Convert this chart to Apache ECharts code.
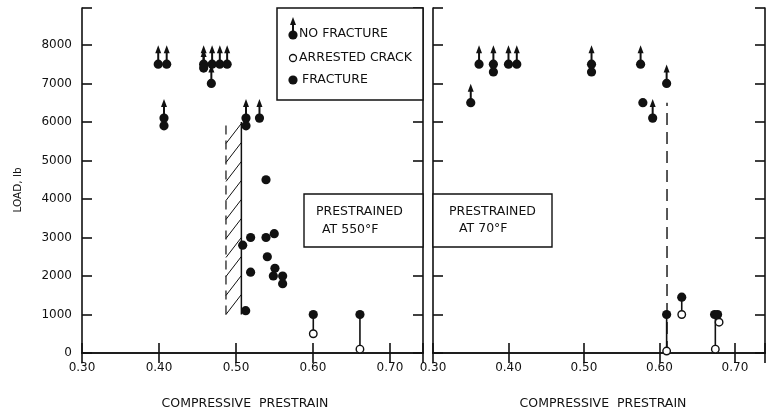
<!DOCTYPE html>
<html><head><meta charset="utf-8">
<script src="https://cdn.jsdelivr.net/npm/echarts@6/dist/echarts.min.js"></script>
<style>html,body{margin:0;padding:0;background:#fff}#c{width:768px;height:414px}</style>
</head><body><div id="c"></div>
<script>
// ---- tick labels ----
const xTickLabels = ['0.30', '0.40', '0.50', '0.60', '0.70'];
const yTickLabels = ['0', '1000', '2000', '3000', '4000', '5000', '6000', '7000', '8000'];

// ---- Prestrained at 550°F (left panel) : [strain, load] ----
const noFracture550 = [[0.399, 7500], [0.410, 7500], [0.4065, 6100], [0.458, 7500], [0.458, 7400], [0.468, 7000],
  [0.469, 7500], [0.479, 7500], [0.4885, 7500], [0.513, 6100], [0.5305, 6100]];
const fracture550 = [[0.4065, 5900], [0.513, 5900], [0.539, 4500], [0.5087, 2800], [0.519, 3000], [0.539, 3000],
  [0.5497, 3100], [0.519, 2100], [0.5407, 2500], [0.5506, 2200], [0.5485, 2000], [0.5606, 2000], [0.5606, 1800],
  [0.5126, 1100], [0.6004, 1000], [0.661, 1000]];
const arrested550 = [[0.6004, 500], [0.661, 100]];
const links550 = [[0.6004, 1000, 500], [0.661, 1000, 100]];          // [strain, fracture load, arrest load]
const hatch550 = [[0.487, 0.507, 1000, 6000]];                        // [x0, x1, y0, y1]

// ---- Prestrained at 70°F (right panel) ----
const noFracture70 = [[0.350, 6500], [0.361, 7500], [0.380, 7500], [0.400, 7500], [0.411, 7500], [0.510, 7500],
  [0.575, 7500], [0.591, 6100], [0.6095, 7000]];
const fracture70 = [[0.380, 7300], [0.510, 7300], [0.578, 6500], [0.6095, 1000], [0.6295, 1450], [0.673, 1000], [0.677, 1000]];
const arrested70 = [[0.6095, 50], [0.6295, 1000], [0.679, 800], [0.674, 100]];
const links70 = [[0.6095, 1000, 50], [0.6295, 1450, 1000], [0.674, 1000, 100]];
const dashed70 = [[0.61, 0, 6500]];

const FONT = 'DejaVu Sans';
const INK = '#111';

function arrowItem(params, api) {
  const p = api.coord([api.value(0), api.value(1)]);
  return {
    type: 'group', children: [
      { type: 'line', shape: { x1: p[0], y1: p[1], x2: p[0], y2: p[1] - 12 }, style: { stroke: INK, lineWidth: 2 } },
      { type: 'polygon', shape: { points: [[p[0] - 3, p[1] - 11], [p[0] + 3, p[1] - 11], [p[0], p[1] - 19]] }, style: { fill: INK } },
      { type: 'circle', shape: { cx: p[0], cy: p[1], r: 4.6 }, style: { fill: INK } }
    ]
  };
}
function linkItem(params, api) {
  const a = api.coord([api.value(0), api.value(1)]);
  const b = api.coord([api.value(0), api.value(2)]);
  return { type: 'line', shape: { x1: a[0], y1: a[1], x2: b[0], y2: b[1] }, style: { stroke: INK, lineWidth: 1.6 } };
}
function hatchItem(params, api) {
  const p0 = api.coord([api.value(0), api.value(2)]);
  const p1 = api.coord([api.value(1), api.value(3)]);
  const xl = p0[0], xr = p1[0], yb = p0[1], yt = p1[1];
  const ch = [
    { type: 'line', shape: { x1: xr, y1: yb, x2: xr, y2: yt }, style: { stroke: INK, lineWidth: 1.5 } },
    { type: 'line', shape: { x1: xl, y1: yb, x2: xl, y2: yt }, style: { stroke: INK, lineWidth: 1.2, lineDash: [9, 6] } }
  ];
  const step = 19, rise = 20;
  for (let y = yb; y - rise >= yt - 0.5; y -= step) {
    ch.push({ type: 'line', shape: { x1: xl, y1: y, x2: xr, y2: y - rise }, style: { stroke: INK, lineWidth: 1 } });
  }
  return { type: 'group', children: ch };
}
function dashItem(params, api) {
  const a = api.coord([api.value(0), api.value(1)]);
  const b = api.coord([api.value(0), api.value(2)]);
  return { type: 'line', shape: { x1: a[0], y1: a[1], x2: b[0], y2: b[1] }, style: { stroke: INK, lineWidth: 1.4, lineDash: [12, 7] } };
}

function xLabel(v) {
  const s = v.toFixed(2);
  return xTickLabels.indexOf(s) >= 0 ? s : '';
}
function yLabel(v) {
  const s = String(Math.round(v));
  return (Math.abs(v - Math.round(v)) < 1e-6 && yTickLabels.indexOf(s) >= 0) ? s : '';
}

const axisLine = { show: true, lineStyle: { color: INK, width: 1.6 } };
const tick = { show: true, inside: true, length: 10, lineStyle: { color: INK, width: 1.6 } };
function xAx(grid, pos, max, labels) {
  return {
    type: 'value', gridIndex: grid, position: pos, min: 0.30, max: max, interval: 0.1,
    axisLine: axisLine, axisTick: tick, splitLine: { show: false },
    axisLabel: { show: labels, formatter: xLabel, margin: 9, color: INK, fontFamily: FONT, fontSize: 12 }
  };
}
function yAx(grid, pos, labels) {
  return {
    type: 'value', gridIndex: grid, position: pos, min: 0, max: 8960, interval: 1000,
    axisLine: axisLine, axisTick: tick, splitLine: { show: false },
    axisLabel: { show: labels, formatter: yLabel, margin: 10, color: INK, fontFamily: FONT, fontSize: 12 }
  };
}

function panelSeries(xi, yi, noFrac, frac, arr, links) {
  return [
    { type: 'custom', xAxisIndex: xi, yAxisIndex: yi, data: links, renderItem: linkItem, z: 2, silent: true },
    { type: 'scatter', xAxisIndex: xi, yAxisIndex: yi, data: frac, symbol: 'circle', symbolSize: 9.2,
      itemStyle: { color: INK, opacity: 1 }, z: 3, silent: true },
    { type: 'custom', xAxisIndex: xi, yAxisIndex: yi, data: noFrac, renderItem: arrowItem, z: 4, silent: true },
    { type: 'scatter', xAxisIndex: xi, yAxisIndex: yi, data: arr, symbol: 'circle', symbolSize: 7.5,
      itemStyle: { color: '#fff', borderColor: INK, borderWidth: 1.4, opacity: 1 }, z: 5, silent: true }
  ];
}

const chart = echarts.init(document.getElementById('c'), null, { renderer: 'canvas' });

const G = [];
// legend box
G.push({ type: 'rect', z: 100, shape: { x: 277, y: 8, width: 146, height: 92 }, style: { fill: '#fff', stroke: INK, lineWidth: 1.5 } });
G.push({ type: 'line', z: 101, shape: { x1: 293, y1: 35, x2: 293, y2: 24 }, style: { stroke: INK, lineWidth: 2 } });
G.push({ type: 'polygon', z: 101, shape: { points: [[290, 25], [296, 25], [293, 17]] }, style: { fill: INK } });
G.push({ type: 'circle', z: 101, shape: { cx: 293, cy: 35, r: 4.6 }, style: { fill: INK } });
G.push({ type: 'circle', z: 101, shape: { cx: 293, cy: 58, r: 3.5 }, style: { fill: '#fff', stroke: INK, lineWidth: 1.3 } });
G.push({ type: 'circle', z: 101, shape: { cx: 293, cy: 80, r: 4.6 }, style: { fill: INK } });
G.push({ type: 'text', z: 101, x: 299, y: 34, style: { text: 'NO FRACTURE', font: '12.5px "DejaVu Sans"', fill: INK, verticalAlign: 'middle' } });
G.push({ type: 'text', z: 101, x: 299, y: 58, style: { text: 'ARRESTED CRACK', font: '12.5px "DejaVu Sans"', fill: INK, verticalAlign: 'middle' } });
G.push({ type: 'text', z: 101, x: 302, y: 80, style: { text: 'FRACTURE', font: '12.5px "DejaVu Sans"', fill: INK, verticalAlign: 'middle' } });
// annotation boxes
G.push({ type: 'rect', z: 100, shape: { x: 304, y: 194, width: 119, height: 53 }, style: { fill: '#fff', stroke: INK, lineWidth: 1.4 } });
G.push({ type: 'text', z: 101, x: 316, y: 212, style: { text: 'PRESTRAINED', font: '12.5px "DejaVu Sans"', fill: INK, verticalAlign: 'middle' } });
G.push({ type: 'text', z: 101, x: 322, y: 230, style: { text: 'AT 550°F', font: '12.5px "DejaVu Sans"', fill: INK, verticalAlign: 'middle' } });
G.push({ type: 'rect', z: 100, shape: { x: 433, y: 194, width: 119, height: 53 }, style: { fill: '#fff', stroke: INK, lineWidth: 1.4 } });
G.push({ type: 'text', z: 101, x: 449, y: 212, style: { text: 'PRESTRAINED', font: '12.5px "DejaVu Sans"', fill: INK, verticalAlign: 'middle' } });
G.push({ type: 'text', z: 101, x: 459, y: 229, style: { text: 'AT 70°F', font: '12.5px "DejaVu Sans"', fill: INK, verticalAlign: 'middle' } });
// axis names
G.push({ type: 'text', z: 101, x: 18, y: 190, rotation: Math.PI / 2,
  style: { text: 'LOAD, lb', font: '10.5px "DejaVu Sans"', fill: INK, align: 'center', verticalAlign: 'middle' } });
G.push({ type: 'text', z: 101, x: 245, y: 404, style: { text: 'COMPRESSIVE  PRESTRAIN', font: '12.5px "DejaVu Sans"', fill: INK, align: 'center', verticalAlign: 'middle' } });
G.push({ type: 'text', z: 101, x: 603, y: 404, style: { text: 'COMPRESSIVE  PRESTRAIN', font: '12.5px "DejaVu Sans"', fill: INK, align: 'center', verticalAlign: 'middle' } });

chart.setOption({
  animation: false,
  backgroundColor: '#fff',
  grid: [
    { left: 82, top: 8, width: 341, height: 345 },
    { left: 433, top: 8, width: 335, height: 345 }
  ],
  xAxis: [xAx(0, 'bottom', 0.7429, true), xAx(0, 'top', 0.7429, false), xAx(1, 'bottom', 0.7398, true), xAx(1, 'top', 0.7398, false)],
  yAxis: [yAx(0, 'left', true), yAx(0, 'right', false), yAx(1, 'left', false), yAx(1, 'right', false)],
  series: [
    { type: 'custom', xAxisIndex: 0, yAxisIndex: 0, data: hatch550, renderItem: hatchItem, z: 1, silent: true },
    ...panelSeries(0, 0, noFracture550, fracture550, arrested550, links550),
    { type: 'custom', xAxisIndex: 2, yAxisIndex: 2, data: dashed70, renderItem: dashItem, z: 1, silent: true },
    ...panelSeries(2, 2, noFracture70, fracture70, arrested70, links70)
  ],
  graphic: G
});
</script>
</body></html>
